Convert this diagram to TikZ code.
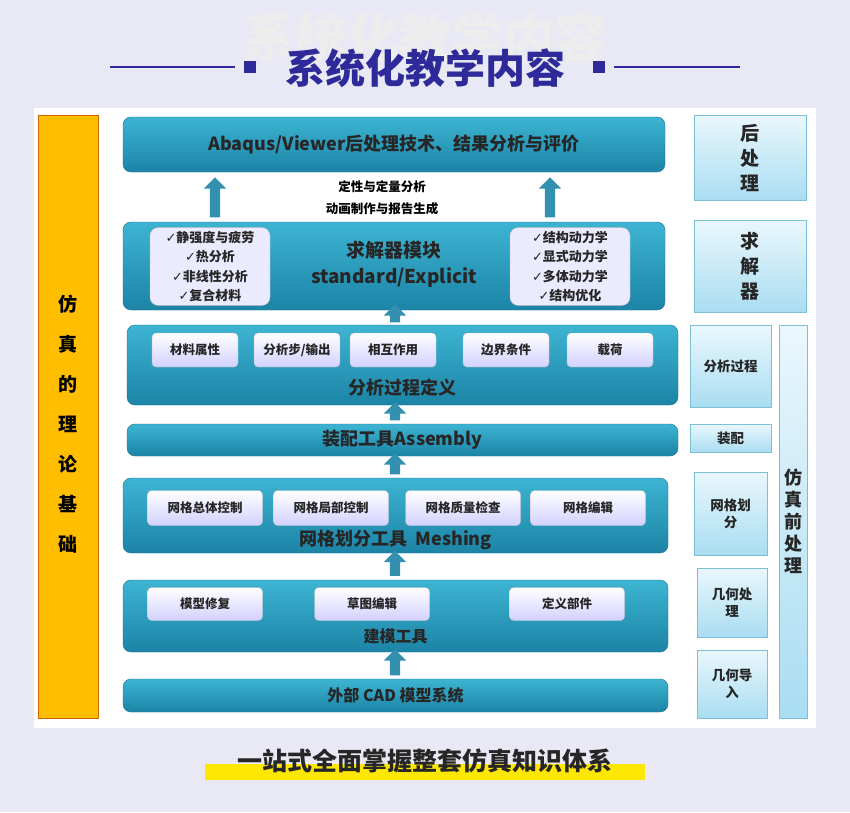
\documentclass[tikz,border=0pt]{standalone}
\usepackage{fontspec}
\setmainfont{Noto Sans CJK SC}
\newfontfamily\symfont{DejaVu Sans}
\usetikzlibrary{shapes.arrows}
\definecolor{bgcol}{HTML}{E9E9F6}
\definecolor{titleblue}{HTML}{2E2A9A}
\definecolor{tealtop}{HTML}{3DB4D2}
\definecolor{tealbot}{HTML}{1C84A6}
\definecolor{tealline}{HTML}{1A6F8C}
\definecolor{sidetop}{HTML}{EAF7FD}
\definecolor{sidebot}{HTML}{A9DDF1}
\definecolor{sideline}{HTML}{7CC0D8}
\definecolor{orangecol}{HTML}{FFBE00}
\newcommand{\ck}{{\symfont\char"2713}}
\tikzset{
  mainbox/.style={rounded corners=8pt, top color=tealtop, bottom color=tealbot, draw=tealline},
  mainlabel/.style={font=\fontsize{18}{20}\selectfont\bfseries, text=black!85},
  subbox/.style={rounded corners=4pt, top color=white, bottom color=blue!18, draw=gray!50, font=\fontsize{12.5}{14}\selectfont\bfseries, text=black!85},
  checkbox/.style={rounded corners=8pt, fill=white!92!blue, draw=gray!50, font=\fontsize{13}{19.5}\selectfont\bfseries, align=center, text=black!85},
  sidebox/.style={top color=sidetop, bottom color=sidebot, draw=sideline, align=center, text=black!85},
  uparrow/.style={single arrow, shape border rotate=90, fill=tealbot!90!white, draw=none, single arrow head extend=6pt, minimum width=22pt, inner sep=5pt}
}
\begin{document}
\begin{tikzpicture}[x=1pt,y=-1pt]
  \useasboundingbox[fill=bgcol] (0,0) rectangle (850,812);
  % title
  \node[font=\fontsize{52}{56}\selectfont\bfseries, text=black!7] (ghost) at (425,38) {系统化教学内容};
  \node[font=\fontsize{40}{44}\selectfont\bfseries, text=titleblue] (title) at (425,68) {系统化教学内容};
  \fill[titleblue] (244,61) rectangle (256,73);
  \fill[titleblue] (593,61) rectangle (605,73);
  \draw[titleblue, line width=1.2pt] (110,67) -- (235,67);
  \draw[titleblue, line width=1.2pt] (614,67) -- (740,67);
  \fill[white] (34,108) rectangle (816,728);
  % left column
  \node[fill=orangecol, draw=orange!80!black, minimum width=60pt, minimum height=603pt] (theory) at (68,416.5) {};
  \node[align=center, font=\fontsize{19}{40}\selectfont\bfseries] (theorylab) at (68,424) {仿\\真\\的\\理\\论\\基\\础};
  % main stack
  \node[mainbox, mainlabel, minimum width=542pt, minimum height=55pt] (post) at (394,144.5) {Abaqus/Viewer后处理技术、结果分析与评价};
  \node[font=\fontsize{12.5}{22}\selectfont\bfseries, align=center] (postnote) at (382,198) {定性与定量分析\\动画制作与报告生成};
  \node[mainbox, minimum width=542pt, minimum height=88pt] (solver) at (394,266) {};
  \node[mainlabel, align=center, font=\fontsize{19}{26}\selectfont\bfseries] (solverlab) at (394,264) {求解器模块\\standard/Explicit};
  \node[checkbox, minimum width=120pt, minimum height=77pt] (checkl) at (210,266.5) {\ck{}静强度与疲劳\\\ck{}热分析\\\ck{}非线性分析\\\ck{}复合材料};
  \node[checkbox, minimum width=120pt, minimum height=77pt] (checkr) at (570,266.5) {\ck{}结构动力学\\\ck{}显式动力学\\\ck{}多体动力学\\\ck{}结构优化};
  \node[mainbox, minimum width=551pt, minimum height=80pt] (analysis) at (402.5,365) {};
  \node[mainlabel] (analysislab) at (402.5,388) {分析过程定义};
  \node[subbox, minimum width=86pt, minimum height=34pt] (mat) at (195,350) {材料属性};
  \node[subbox, minimum width=86pt, minimum height=34pt] (step) at (297,350) {分析步/输出};
  \node[subbox, minimum width=86pt, minimum height=34pt] (inter) at (393,350) {相互作用};
  \node[subbox, minimum width=86pt, minimum height=34pt] (bc) at (506,350) {边界条件};
  \node[subbox, minimum width=86pt, minimum height=34pt] (load) at (610,350) {载荷};
  \node[mainbox, mainlabel, minimum width=551pt, minimum height=32pt] (assembly) at (402.5,440) {装配工具Assembly};
  \node[mainbox, minimum width=545pt, minimum height=75pt] (mesh) at (395.5,515.5) {};
  \node[mainlabel] (meshlab) at (395.5,540) {网格划分工具\ \ Meshing};
  \node[subbox, minimum width=115pt, minimum height=35pt] (mesh1) at (205,508) {网格总体控制};
  \node[subbox, minimum width=115pt, minimum height=35pt] (mesh2) at (331,508) {网格局部控制};
  \node[subbox, minimum width=115pt, minimum height=35pt] (mesh3) at (463,508) {网格质量检查};
  \node[subbox, minimum width=115pt, minimum height=35pt] (mesh4) at (588,508) {网格编辑};
  \node[mainbox, minimum width=545pt, minimum height=72pt] (model) at (395.5,616) {};
  \node[mainlabel, font=\fontsize{16}{18}\selectfont\bfseries] (modellab) at (395.5,636) {建模工具};
  \node[subbox, minimum width=115pt, minimum height=33pt] (model1) at (205,604) {模型修复};
  \node[subbox, minimum width=115pt, minimum height=33pt] (model2) at (372,604) {草图编辑};
  \node[subbox, minimum width=115pt, minimum height=33pt] (model3) at (567,604) {定义部件};
  \node[mainbox, mainlabel, font=\fontsize{16}{18}\selectfont\bfseries, minimum width=545pt, minimum height=33pt] (cad) at (395.5,695.5) {外部 CAD 模型系统};
  % block arrows
  \node[uparrow, minimum height=40pt] (up1) at (215,200) {};
  \node[uparrow, minimum height=40pt] (up2) at (550,200) {};
  \node[uparrow, minimum height=18pt] (up3) at (395,316) {};
  \node[uparrow, minimum height=18pt] (up4) at (395,414) {};
  \node[uparrow, minimum height=21pt] (up5) at (395,466.5) {};
  \node[uparrow, minimum height=25pt] (up6) at (395,566) {};
  \node[uparrow, minimum height=26pt] (up7) at (395,665) {};
  % right column
  \node[sidebox, font=\fontsize{19}{25}\selectfont\bfseries, minimum width=112pt, minimum height=85pt] (s1) at (750,157.5) {后\\处\\理};
  \node[sidebox, font=\fontsize{19}{25}\selectfont\bfseries, minimum width=112pt, minimum height=92pt] (s2) at (750,266) {求\\解\\器};
  \node[sidebox, font=\fontsize{13.5}{16}\selectfont\bfseries, minimum width=81pt, minimum height=82pt] (s3) at (730.5,366) {分析过程};
  \node[sidebox, font=\fontsize{13.5}{16}\selectfont\bfseries, minimum width=81pt, minimum height=28pt] (s4) at (730.5,438) {装配};
  \node[sidebox, font=\fontsize{13.5}{17}\selectfont\bfseries, minimum width=73pt, minimum height=83pt] (s5) at (730.5,513.5) {网格划\\分};
  \node[sidebox, font=\fontsize{13.5}{17}\selectfont\bfseries, minimum width=70pt, minimum height=69pt] (s6) at (732,602.5) {几何处\\理};
  \node[sidebox, font=\fontsize{13.5}{17}\selectfont\bfseries, minimum width=70pt, minimum height=68pt] (s7) at (732,684) {几何导\\入};
  \node[sidebox, font=\fontsize{18}{22}\selectfont\bfseries, minimum width=28pt, minimum height=393pt, inner sep=1pt] (s8) at (793,521.5) {仿\\真\\前\\处\\理};
  % footer
  \fill[yellow!90!orange] (205,764) rectangle (645,780);
  \node[font=\fontsize{25}{28}\selectfont\bfseries, text=black!85] (footer) at (425,761) {一站式全面掌握整套仿真知识体系};
\end{tikzpicture}
\end{document}
